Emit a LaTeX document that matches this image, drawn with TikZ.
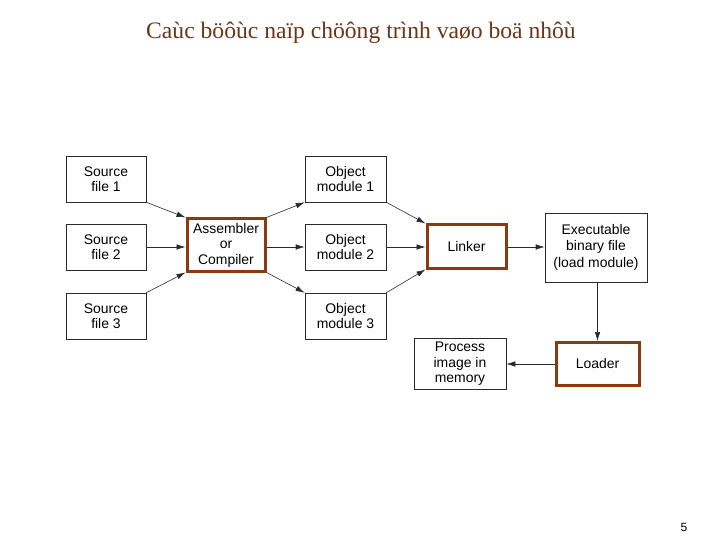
\documentclass[tikz,border=0pt]{standalone}
\usepackage{fontspec}
\setsansfont{Liberation Sans}
\newfontfamily\titlefont{Liberation Serif}
\usepackage{xcolor}
\usepackage{tikz}
\usetikzlibrary{arrows.meta, positioning}
\definecolor{rustbrown}{HTML}{8B3A0F}
\definecolor{titlebrown}{HTML}{6B3518}
\definecolor{linegray}{HTML}{2A2A2A}

\begin{document}
\begin{tikzpicture}[
    x=1bp, y=-1bp,
    font=\sffamily\fontsize{14}{15.5}\selectfont,
    box/.style={rectangle, draw=linegray, line width=0.6pt, fill=white,
                align=center, inner sep=0pt, minimum width=80bp, minimum height=46bp},
    keybox/.style={box, draw=rustbrown, line width=3bp},
    arrow/.style={-{Latex[length=9bp, width=5.5bp]}, line width=0.6pt, draw=linegray},
    titletext/.style={font=\titlefont\fontsize{23.7}{28}\selectfont, text=titlebrown}
  ]
    \useasboundingbox (0,0) rectangle (720,540);

    \node[titletext] (title) at (361,33) {Caùc böôùc naïp chöông trình vaøo boä nhôù};

    \node[box] (src1) at (106,179) {Source\\file 1};
    \node[box] (src2) at (106,247) {Source\\file 2};
    \node[box] (src3) at (106,316) {Source\\file 3};

    \node[keybox, minimum width=78bp, minimum height=52bp] (asm) at (226,245) {Assembler\\or\\Compiler};

    \node[box, minimum width=81bp] (obj1) at (345.5,179) {Object\\module 1};
    \node[box, minimum width=81bp] (obj2) at (345.5,247) {Object\\module 2};
    \node[box, minimum width=81bp] (obj3) at (345.5,316) {Object\\module 3};

    \node[keybox, minimum width=79bp, minimum height=43bp] (linker) at (466.5,246.5) {Linker};
    \node[box, minimum width=102bp, minimum height=69bp] (exe) at (596,247.5)
      {Executable\\binary file\\[2bp](load module)};
    \node[keybox, minimum width=83bp, minimum height=43bp] (loader) at (597.5,364) {Loader};
    \node[box, minimum width=92bp, minimum height=51bp] (proc) at (460,364)
      {Process\\image in\\memory};

    \node[font=\sffamily\fontsize{12}{14}\selectfont] (pagenum) at (684,527) {5};

    \draw[arrow] (src1.south east) -- (asm.north west);
    \draw[arrow] (src2.east) -- (src2.east -| asm.west);
    \draw[arrow] (src3.north east) -- (asm.south west);

    \draw[arrow] (asm.north east) -- (obj1.south west);
    \draw[arrow] (obj2.west -| asm.east) -- (obj2.west);
    \draw[arrow] (asm.south east) -- (obj3.north west);

    \draw[arrow] (obj1.south east) -- (linker.north west);
    \draw[arrow] (obj2.east) -- (obj2.east -| linker.west);
    \draw[arrow] (obj3.north east) -- (linker.south west);

    \draw[arrow] (obj2.east -| linker.east) -- (obj2.east -| exe.west);
    \draw[arrow] (loader.north |- exe.south) -- (loader.north);
    \draw[arrow] (loader.west) -- (proc.east);
\end{tikzpicture}
\end{document}
